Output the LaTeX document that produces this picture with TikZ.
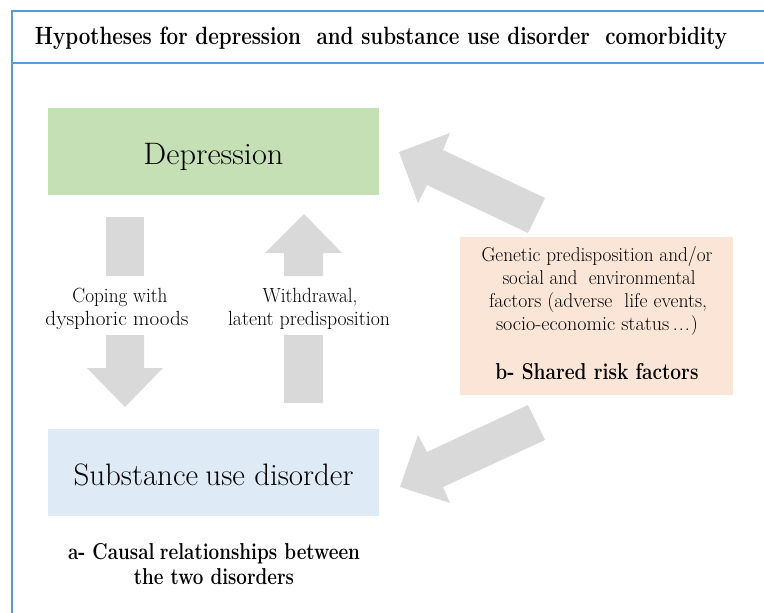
\documentclass[tikz,border=0pt]{standalone}
\usepackage{fontspec}
\usepackage{graphicx}
\setmainfont{Latin Modern Roman}
\newcommand{\fitto}[2]{\resizebox{#1}{\height}{#2}}
\definecolor{frameblue}{RGB}{91,155,213}
\definecolor{depgreen}{RGB}{197,224,180}
\definecolor{sudblue}{RGB}{222,234,246}
\definecolor{riskorange}{RGB}{251,229,214}
\definecolor{arrowgray}{RGB}{217,217,217}
\begin{document}
\begin{tikzpicture}[x=1pt,y=-1pt,
  frame/.style={draw=frameblue, line width=2.2pt},
  blockarrow/.style={fill=arrowgray, draw=none},
  box/.style={draw=none, minimum width=331pt, minimum height=87pt, inner sep=0pt},
  bigtxt/.style={font=\fontsize{31}{36}\selectfont, anchor=base, inner sep=0pt},
  lbl/.style={font=\fontsize{20.5}{25}\selectfont, anchor=base, inner sep=0pt},
  risktxt/.style={font=\fontsize{20}{25}\selectfont, anchor=base, inner sep=0pt},
  boldtxt/.style={font=\bfseries\fontsize{23}{27}\selectfont, anchor=base, inner sep=0pt},
  titletxt/.style={font=\bfseries\fontsize{25}{30}\selectfont, anchor=base, inner sep=0pt}]
\useasboundingbox (0,0) rectangle (764,613);
\fill[white] (0,0) rectangle (764,613);
% frame
\draw[frame] (764,11) -- (12,11) -- (12,613);
\draw[frame] (12,63) -- (764,63);
\node[titletxt] (title) at (381,44) {\fitto{692pt}{Hypotheses for depression \ and substance use disorder \ comorbidity}};
% boxes
\node[box, fill=depgreen] (dep) at (213.5,151.5) {};
\node[bigtxt] (deptxt) at (213.5,164) {\fitto{140pt}{Depression}};
\node[box, fill=sudblue] (sud) at (213.5,472.5) {};
\node[bigtxt] (sudtxt) at (213.5,485) {\fitto{280pt}{Substance\kern-2pt\ use disorder}};
\node[draw=none, fill=riskorange, minimum width=273pt, minimum height=158pt, inner sep=0pt] (risk) at (596.5,316) {};
\node[risktxt] (r1) at (597,261) {\fitto{231pt}{Genetic predisposition and/or}};
\node[risktxt] (r2) at (599,284.5) {\fitto{193pt}{social and \ environmental}};
\node[risktxt] (r3) at (598,307) {\fitto{218pt}{factors (adverse \ life events,}};
\node[risktxt] (r4) at (597,330) {\fitto{202pt}{socio-economic status\,.\kern1pt.\kern1pt.\kern1pt)}};
\node[boldtxt] (r5) at (597,379) {\fitto{203pt}{b- Shared risk factors}};
% vertical block arrows
\fill[blockarrow] (106,217) rectangle (144,276);
\fill[blockarrow] (106,335) -- (144,335) -- (144,368) -- (163,368) -- (125,407) -- (87,368) -- (106,368) -- cycle;
\fill[blockarrow] (304,214) -- (342,253) -- (323,253) -- (323,276) -- (284,276) -- (284,253) -- (265,253) -- cycle;
\fill[blockarrow] (284,335) rectangle (323,403);
\node[lbl] (c1) at (120,302) {\fitto{95pt}{Coping with}};
\node[lbl] (c2) at (117,325) {\fitto{143pt}{dysphoric moods}};
\node[lbl] (w1) at (310,302) {\fitto{95pt}{Withdrawal,}};
\node[lbl] (w2) at (309,325) {\fitto{162pt}{latent predisposition}};
% diagonal block arrows
\fill[blockarrow] (545,198) -- (443,150) -- (450,133) -- (399,152) -- (418,203) -- (427,185) -- (528,233) -- cycle;
\fill[blockarrow] (528,405) -- (427,452) -- (418,435) -- (400,487) -- (450,503) -- (443,487) -- (545,440) -- cycle;
% bottom label
\node[boldtxt] (a1) at (214,559) {\fitto{292pt}{a- Causal\kern-2pt\ relationships between}};
\node[boldtxt] (a2) at (214,584) {\fitto{160pt}{the two disorders}};
\end{tikzpicture}
\end{document}
